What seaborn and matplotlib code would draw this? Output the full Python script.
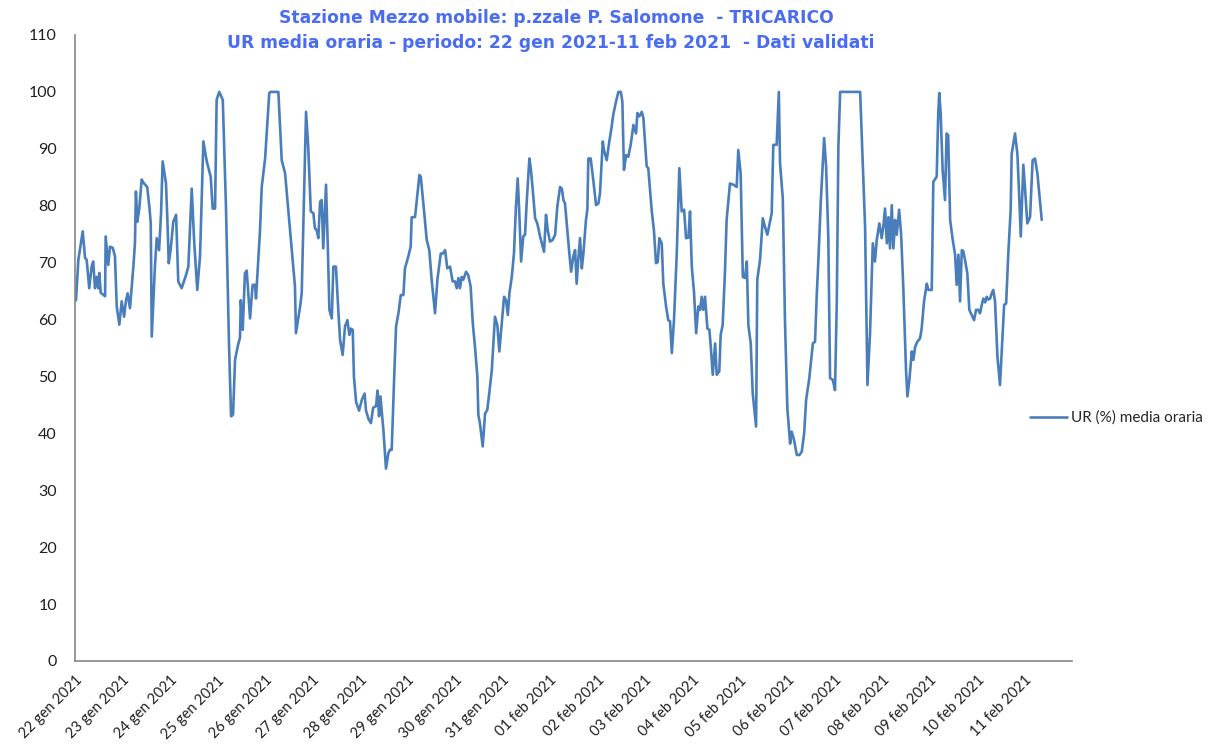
import numpy as np
import pandas as pd
import matplotlib
matplotlib.use("Agg")
import matplotlib.pyplot as plt
import seaborn as sns

# ---- data (hours since 22 gen 2021 00:00, RH %) ----
hours = [0.0, 1.2, 3.4, 4.6, 5.4, 6.7, 7.9, 8.7, 9.6, 10.5, 11.3, 11.8, 12.5, 14.7, 15.0, 16.3, 17.2, 18.6,
         19.7, 20.6, 21.9, 23.1, 24.3, 25.3, 26.1, 27.3, 29.0, 29.8, 30.3, 31.0, 32.0, 33.2, 34.4, 36.0,
         37.1, 37.8, 38.3, 39.9, 40.8, 42.0, 43.0, 43.8, 45.5, 46.2, 46.9, 47.9, 49.2, 50.6, 51.7, 53.4,
         55.6, 56.8, 58.5, 59.7, 61.3, 62.7, 64.4, 66.1, 68.1, 69.1, 70.3, 71.1, 72.4, 74.2, 75.8, 77.4,
         78.4, 79.4, 80.4, 81.9, 82.9, 83.3, 84.3, 85.4, 86.3, 88.0, 89.3, 90.5, 91.0, 93.0, 93.9, 95.6,
         97.7, 98.3, 102.3, 104.0, 105.7, 108.2, 110.7, 111.2, 113.3, 114.1, 116.3, 117.4, 118.7, 120.0,
         120.8, 121.7, 122.5, 123.4, 124.2, 125.0, 126.4, 127.3, 128.1, 129.3, 130.1, 131.4, 132.6, 133.5,
         134.8, 136.0, 137.2, 138.2, 138.9, 139.9, 140.5, 141.6, 143.1, 144.6, 145.9, 146.6, 147.9, 149.1,
         150.2, 151.7, 152.4, 153.2, 153.9, 155.4, 156.7, 157.9, 158.7, 159.6, 160.8, 161.8, 163.0, 164.2,
         165.5, 166.3, 168.0, 169.2, 169.7, 171.4, 173.6, 174.3, 175.6, 177.3, 178.6, 179.8, 181.5, 182.7,
         184.4, 185.5, 186.6, 187.7, 189.1, 190.4, 191.6, 192.5, 193.3, 194.1, 195.0, 195.8, 197.2, 198.3,
         199.5, 200.6, 201.7, 202.9, 203.4, 204.2, 205.6, 206.8, 207.9, 208.9, 210.2, 211.8, 213.0, 214.0,
         215.2, 216.4, 217.4, 218.3, 219.1, 220.3, 221.4, 222.4, 223.3, 224.1, 225.0, 226.1, 227.0, 227.9,
         229.2, 229.9, 230.9, 232.1, 233.2, 234.6, 235.9, 236.6, 237.6, 238.5, 239.6, 241.0, 242.2, 243.3,
         244.7, 245.6, 246.4, 247.2, 248.4, 249.4, 250.3, 251.4, 252.3, 253.1, 253.9, 254.8, 255.7, 256.5,
         257.8, 258.5, 259.0, 260.2, 261.5, 262.9, 264.1, 264.9, 266.3, 266.9, 268.3, 269.6, 270.8, 271.6,
         273.0, 274.2, 275.4, 276.2, 277.0, 278.1, 279.2, 280.4, 281.8, 283.1, 283.8, 284.8, 286.0, 286.8,
         288.5, 289.3, 291.0, 292.2, 293.2, 294.1, 294.9, 296.1, 296.9, 298.3, 299.4, 300.3, 301.2, 302.3,
         303.7, 305.0, 306.2, 307.4, 308.4, 309.6, 310.4, 311.3, 312.4, 313.5, 314.6, 315.5, 316.3, 317.1,
         318.0, 319.2, 320.2, 320.9, 321.9, 323.1, 323.9, 325.2, 325.9, 326.9, 328.1, 328.9, 330.6, 332.3,
         334.0, 334.8, 336.0, 337.1, 338.2, 339.1, 339.9, 341.1, 342.1, 343.8, 344.4, 345.8, 347.2, 348.3,
         349.5, 350.5, 351.7, 352.5, 354.2, 355.3, 355.9, 357.3, 358.4, 359.6, 361.0, 361.8, 363.0, 364.4,
         365.7, 366.9, 368.1, 369.1, 370.7, 372.5, 373.6, 374.5, 375.3, 376.5, 378.2, 379.2, 380.3, 381.2,
         382.6, 383.7, 384.6, 385.4, 386.3, 396.4, 398.0, 398.9, 400.1, 401.4, 402.8, 403.9, 404.8, 406.1,
         407.3, 408.1, 409.0, 409.9, 410.7, 411.5, 412.4, 413.2, 414.1, 414.9, 416.1, 417.1, 418.2, 419.6,
         420.3, 421.3, 422.5, 423.3, 424.2, 425.3, 426.7, 427.5, 428.7, 430.1, 430.9, 432.6, 433.4, 435.1,
         435.9, 436.4, 437.1, 438.1, 439.3, 440.1, 440.9, 441.9, 443.2, 444.4, 445.2, 446.1, 446.9, 447.8,
         448.6, 449.4, 450.6, 451.6, 452.8, 454.0, 455.0, 456.2, 457.0, 457.9, 458.7, 459.6, 460.4, 461.2,
         462.1, 462.9, 463.7, 464.6, 465.8, 467.1, 468.0, 469.2, 470.2, 471.3, 472.5, 473.0, 474.7, 475.9,
         476.9, 477.6, 478.9, 479.8, 480.9, 482.3, 483.6, 484.8, 486.0, 488.2]

ur = [63.4, 70.5, 75.5, 70.8, 70.5, 65.5, 69.3, 70.2, 65.5, 67.5, 65.5, 68.2, 64.7, 64.1, 74.6, 69.6, 72.8, 72.6,
      71.1, 62.3, 59.1, 63.2, 60.5, 63.4, 64.6, 62.0, 69.3, 73.4, 82.5, 77.2, 79.5, 84.6, 83.9, 83.3,
      79.8, 76.9, 57.0, 69.3, 74.3, 72.2, 78.7, 87.8, 83.9, 77.5, 69.9, 72.5, 77.2, 78.4, 66.7, 65.5,
      67.8, 69.3, 83.0, 74.0, 65.2, 71.1, 91.3, 87.8, 85.1, 79.5, 79.5, 98.6, 100.0, 98.6, 80.0, 55.0,
      43.0, 43.3, 52.9, 55.5, 56.8, 63.4, 58.2, 68.1, 68.6, 60.2, 66.1, 66.1, 63.7, 75.5, 83.3, 88.3,
      99.8, 100.0, 100.0, 88.0, 85.7, 75.7, 65.8, 57.6, 62.3, 64.6, 96.5, 90.4, 79.0, 78.7,
      76.0, 75.7, 74.3, 80.7, 81.0, 72.5, 83.7, 72.8, 61.7, 60.2, 69.3, 69.3, 61.7, 56.4,
      53.8, 58.8, 59.9, 57.3, 58.4, 58.2, 50.0, 45.5, 44.0, 46.0, 47.0, 44.0, 42.5, 41.8,
      44.5, 44.8, 47.5, 43.0, 46.5, 40.6, 33.8, 36.5, 37.1, 37.1, 49.4, 58.8, 61.1, 64.3,
      64.3, 69.0, 71.1, 72.8, 78.0, 78.0, 85.4, 85.1, 80.4, 74.0, 72.2, 67.0, 61.1, 67.0,
      71.6, 71.6, 72.2, 69.0, 69.3, 66.7, 66.7, 65.5, 67.3, 65.5, 67.5, 67.0, 68.4, 67.8,
      65.8, 59.3, 55.2, 50.0, 43.2, 41.8, 37.7, 43.5, 44.1, 47.0, 51.1, 60.5, 59.0, 54.4,
      59.3, 64.0, 63.4, 60.8, 64.6, 67.5, 71.6, 79.8, 84.8, 78.7, 70.2, 74.6, 74.9, 81.0,
      88.3, 86.6, 82.8, 77.8, 76.9, 74.6, 72.8, 71.9, 78.4, 75.7, 73.7, 74.0, 74.9, 79.8,
      83.3, 83.0, 81.0, 80.4, 75.5, 71.6, 68.4, 71.1, 72.2, 66.3, 70.5, 74.3, 69.0, 71.6,
      77.5, 79.3, 88.3, 88.3, 84.5, 80.1, 80.4, 82.2, 91.3, 89.8, 88.0, 91.3, 93.9, 96.0,
      98.3, 100.0, 100.0, 98.3, 86.3, 88.9, 88.6, 90.7, 94.2, 92.7, 96.3, 95.7, 96.5, 95.5,
      86.9, 86.6, 79.3, 75.5, 69.9, 70.1, 74.3, 73.4, 66.3, 62.3, 59.9, 59.7, 54.1, 59.9,
      71.6, 86.6, 79.0, 79.3, 74.3, 74.4, 79.0, 69.3, 64.9, 57.6, 62.3, 61.7, 64.0, 61.7,
      64.0, 58.4, 58.2, 55.2, 50.3, 55.8, 50.3, 50.9, 57.3, 59.0, 68.7, 77.5, 83.9, 83.7,
      83.3, 89.8, 85.7, 67.5, 67.3, 70.2, 59.0, 55.8, 47.0, 41.2, 67.0, 70.5, 77.8, 76.3,
      74.9, 76.6, 78.7, 90.7, 90.7, 100.0, 87.5, 81.3, 59.9, 44.4, 38.2, 40.3, 38.8, 36.2,
      36.2, 36.8, 40.0, 45.9, 49.7, 55.8, 56.1, 64.6, 70.5, 80.7, 91.9, 86.9, 74.6, 49.7,
      49.4, 47.6, 63.2, 90.4, 100.0, 100.0, 84.5, 76.3, 48.5, 57.6, 73.4, 70.2, 74.0, 76.9,
      74.3, 76.3, 79.5, 73.4, 78.0, 72.5, 80.1, 72.5, 77.5, 74.9, 79.3, 75.1, 65.8, 51.1,
      46.5, 49.4, 54.4, 52.9, 55.2, 56.1, 56.7, 58.4, 63.2, 66.3, 65.2, 65.2, 84.2, 85.1,
      96.5, 99.8, 96.3, 86.3, 81.0, 92.7, 92.4, 77.5, 74.0, 71.4, 66.1, 71.4, 63.2, 72.2,
      72.0, 70.5, 68.1, 61.7, 60.8, 59.9, 61.7, 61.7, 61.1, 62.6, 63.7, 63.0, 64.0, 63.5,
      63.7, 64.6, 65.2, 63.2, 53.5, 48.5, 54.7, 62.6, 62.8, 71.6, 79.3, 89.1, 92.7, 89.1,
      81.0, 74.6, 87.2, 82.8, 76.9, 78.0, 88.0, 88.3, 85.7, 77.5]

day_labels = ["22 gen 2021", "23 gen 2021", "24 gen 2021", "25 gen 2021", "26 gen 2021",
              "27 gen 2021", "28 gen 2021", "29 gen 2021", "30 gen 2021", "31 gen 2021",
              "01 feb 2021", "02 feb 2021", "03 feb 2021", "04 feb 2021", "05 feb 2021",
              "06 feb 2021", "07 feb 2021", "08 feb 2021", "09 feb 2021", "10 feb 2021",
              "11 feb 2021"]
y_ticks = [0, 10, 20, 30, 40, 50, 60, 70, 80, 90, 100, 110]
series_name = "UR (%) media oraria"
title_1 = "Stazione Mezzo mobile: p.zzale P. Salomone  - TRICARICO"
title_2 = "UR media oraria - periodo: 22 gen 2021-11 feb 2021  - Dati validati"

# ---- plotting ----
sns.set_style("white")
plt.rcParams['font.family'] = ['Lato', 'DejaVu Sans']

fig = plt.figure(figsize=(12.3, 7.45), dpi=100)
ax = fig.add_axes([75/1230, 1-661/745, (1072-75)/1230, (661-35)/745])

df = pd.DataFrame({"ora": hours, "UR": ur})
line_color = "#4a7ebb"
sns.lineplot(data=df, x="ora", y="UR", ax=ax, color=line_color, linewidth=1.9,
             label=series_name, sort=False, estimator=None)

ax.set_xlim(-0.5, 24 * 21 - 0.5)
ax.set_ylim(0, 110)

major_x = [24 * k - 0.5 for k in range(22)]
ax.set_xticks(major_x)
ax.set_xticklabels(day_labels + [""], rotation=45, ha="right", rotation_mode="anchor",
                   fontsize=10.5, color="#202020")
ax.set_xticks([24 * k + 11.5 for k in range(21)], minor=True)
ax.tick_params(axis="x", which="major", direction="out", length=6, width=1, color="#868686", pad=3)
ax.tick_params(axis="x", which="minor", direction="out", length=4, width=1, color="#868686")

ax.set_yticks(y_ticks)
ax.set_yticklabels([str(v) for v in y_ticks], fontsize=11.5, color="#202020")
ax.set_yticks([v + 5 for v in y_ticks[:-1]], minor=True)
ax.tick_params(axis="y", which="both", direction="in", length=5, width=1, color="#868686", pad=13)

for s in ["top", "right"]:
    ax.spines[s].set_visible(False)
for s in ["left", "bottom"]:
    ax.spines[s].set_color("#868686")
    ax.spines[s].set_linewidth(1.2)

ax.set_xlabel("")
ax.set_ylabel("")
ax.grid(False)

leg = ax.legend(loc="center left", bbox_to_anchor=(1030/1230, 1-418/745),
                bbox_transform=fig.transFigure, frameon=False, fontsize=11,
                handlelength=2.4, handletextpad=0.3, borderpad=0, borderaxespad=0)

title_color = "#4a6cf0"
fig.text(556/1230, 1-18/745, title_1, ha="center", va="center", fontsize=12.3,
         fontweight="bold", color=title_color, family="DejaVu Sans")
fig.text(551/1230, 1-43/745, title_2, ha="center", va="center", fontsize=12.3,
         fontweight="bold", color=title_color, family="DejaVu Sans")

fig.savefig("out.png", dpi=100)
